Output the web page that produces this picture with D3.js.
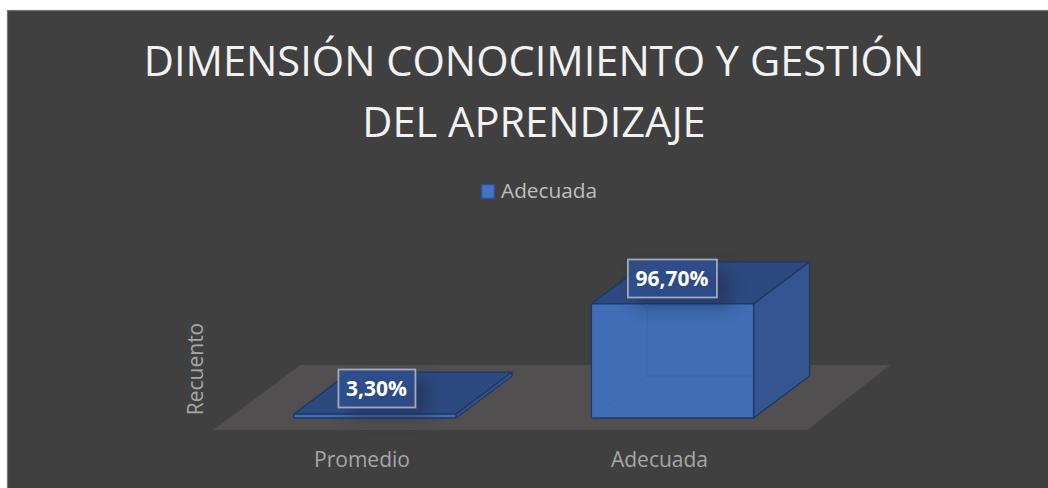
<!DOCTYPE html>
<html><head><meta charset="utf-8">
<script src="https://cdnjs.cloudflare.com/ajax/libs/d3/7.8.5/d3.min.js"></script>
<style>html,body{margin:0;padding:0;background:#fff}svg{display:block}text{font-family:"Open Sans",sans-serif}</style>
</head><body><svg id="c" width="1048" height="488"></svg>
<script>
const categories = ["Promedio", "Adecuada"];
const values = [3.3, 96.7];
const valueLabels = ["3,30%", "96,70%"];
const seriesName = "Adecuada";
const titleLines = ["DIMENSIÓN CONOCIMIENTO Y GESTIÓN", "DEL APRENDIZAJE"];
const axisTitle = "Recuento";

const svg = d3.select("#c");
const defs = svg.append("defs");
const blur = defs.append("filter").attr("id","sh").attr("x","-40%").attr("y","-60%").attr("width","180%").attr("height","220%");
blur.append("feGaussianBlur").attr("stdDeviation",8);

svg.append("rect").attr("x",7.5).attr("y",10.5).attr("width",1048).attr("height",490)
  .attr("fill","#404040").attr("stroke","#747474").attr("stroke-width",1.2);

const t = svg.append("g").attr("text-anchor","middle").attr("fill","#f2f2f2");
titleLines.forEach((s,i)=>t.append("text").attr("x",534).attr("y",76+i*61).attr("font-size",41.6).text(s));

// legend
svg.append("rect").attr("x",481.5).attr("y",184.5).attr("width",13).attr("height",14)
  .attr("fill","#4472c4").attr("stroke","#2f4f8f").attr("stroke-width",1.5);
svg.append("text").attr("x",501).attr("y",198).attr("font-size",20.8).attr("fill","#bfbfbf").text(seriesName);

const x = d3.scaleBand().domain(categories).range([226.25,821.25]).paddingInner(.455).paddingOuter(.2275);
const y = d3.scaleLinear().domain([0,100]).range([418,300]);
const dx = 56, dy = -42;
const pts = a => a.map(p=>p.join(",")).join(" ");

// floor
const fl = x.range()[0]-13, fr = x.range()[1]-14, fy = 430;
svg.append("polygon").attr("fill","#514f4f")
  .attr("points",pts([[fl,fy],[fr,fy],[fr+83,fy-65],[fl+87,fy-65]]));

// axis titles
svg.append("text").attr("transform","translate(203,369) rotate(-90)").attr("text-anchor","middle")
  .attr("font-size",21).attr("fill","#a6a6a6").text(axisTitle);
categories.forEach(c=>svg.append("text").attr("x",x(c)+x.bandwidth()/2-13).attr("y",467)
  .attr("text-anchor","middle").attr("font-size",21).attr("fill","#a6a6a6").text(c));

// bars
const edge = "#1f3864";
categories.forEach((c,i)=>{
  const l=x(c), r=l+x.bandwidth(), b=y(0), h=y(values[i]);
  const g=svg.append("g").attr("stroke",edge).attr("stroke-width",1.3).attr("stroke-linejoin","round");
  g.append("polygon").attr("fill","#2d4a80").attr("points",pts([[l,h],[r,h],[r+dx,h+dy],[l+dx,h+dy]]));
  g.append("polygon").attr("fill","#34558f").attr("points",pts([[r,h],[r+dx,h+dy],[r+dx,b+dy],[r,b]]));
  g.append("rect").attr("x",l).attr("y",h).attr("width",r-l).attr("height",b-h).attr("fill","#406db5");
  if(b-h>20){
    svg.append("path").attr("d",`M${l+dx},${h}V${b+dy}H${r}M${l+dx},${b+dy}L${l},${b}`)
      .attr("fill","none").attr("stroke","#3d69b0").attr("stroke-width",1);
  }
});

// labels
const boxW=[77,89], boxH=38;
const boxX=categories.map((c,i)=>x(c)+(i===0?44:36)), boxY=[369,259];
categories.forEach((c,i)=>{
  svg.append("rect").attr("x",boxX[i]+10).attr("y",boxY[i]+10).attr("width",boxW[i]+5).attr("height",boxH)
    .attr("fill","#1a2b4d").attr("opacity",.5).attr("filter","url(#sh)");
});
categories.forEach((c,i)=>{
  svg.append("rect").attr("x",boxX[i]+.5).attr("y",boxY[i]+.5).attr("width",boxW[i]).attr("height",boxH)
    .attr("fill","#2f5090").attr("fill-opacity",.8).attr("stroke","#a2a9b8").attr("stroke-width",1.8);
  svg.append("text").attr("x",boxX[i]+boxW[i]/2).attr("y",boxY[i]+27).attr("text-anchor","middle")
    .attr("font-size",21).attr("font-weight",700).attr("fill","#fff").text(valueLabels[i]);
});
</script></body></html>
